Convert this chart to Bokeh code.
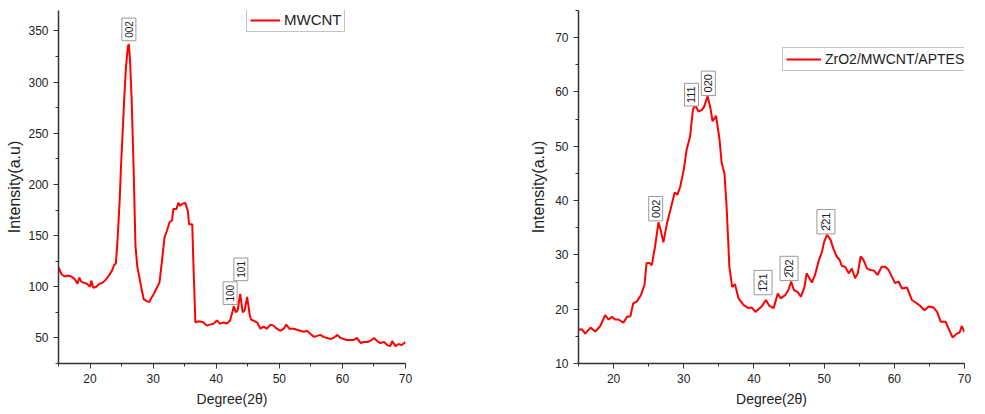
import math
from bokeh.plotting import figure
from bokeh.layouts import row
from bokeh.models import ColumnDataSource, SingleIntervalTicker, Legend, LegendItem, Range1d
from bokeh.embed import file_html
from bokeh.resources import INLINE
from bokeh.core.properties import value

FONT = "Liberation Sans"

# ---- MWCNT data ----
mw_deg = [15.0, 15.5, 16.0, 16.5, 17.0, 17.5, 18.0, 18.3, 18.6, 19.0, 19.5, 20.0, 20.2, 20.5,
          21.0, 21.5, 22.0, 22.5, 23.0, 23.5, 23.8, 24.1, 24.4, 24.7, 24.9, 25.2, 25.4, 25.7,
          26.0, 26.15, 26.35, 26.6, 26.9, 27.2, 27.5, 27.8, 28.0, 28.5, 29.0, 29.4, 29.7, 30.1,
          30.6, 31.0, 31.4, 31.8, 32.2, 32.6, 33.0, 33.2, 33.7, 34.0, 34.3, 34.6, 35.1, 35.5,
          35.7, 36.2, 36.4, 36.7, 37.0, 37.5, 38.0, 38.5, 39.0, 39.6, 40.1, 40.6, 41.2, 41.7,
          42.2, 42.8, 43.1, 43.4, 43.8, 44.2, 44.5, 44.9, 45.3, 45.5, 45.9, 46.5, 47.0, 47.5,
          48.0, 48.6, 49.1, 49.6, 50.2, 50.7, 51.1, 51.6, 52.3, 52.8, 53.3, 53.9, 54.4, 54.9,
          55.5, 56.0, 56.5, 57.0, 57.6, 58.1, 58.6, 59.2, 59.7, 60.2, 60.7, 61.3, 61.8, 62.3,
          62.9, 63.4, 63.9, 64.4, 65.0, 65.5, 66.0, 66.6, 67.1, 67.6, 67.9, 68.4, 68.9, 69.4, 70.0]
mw_int = [119, 112, 110, 111, 110, 108, 103, 109, 105, 104, 103, 100, 106, 99,
          100, 103, 104, 107, 111, 116, 121, 123, 150, 185, 217, 255, 282, 315,
          335, 337, 320, 282, 217, 140, 119, 110, 103, 88, 86, 85, 89, 93,
          99, 104, 125, 148, 155, 163, 165, 176, 176, 182, 179, 181, 182, 174,
          161, 161, 119, 65, 66, 66, 65, 62, 63, 64, 67, 64, 65, 64,
          67, 81, 75, 77, 93, 75, 77, 90, 73, 68, 67, 65, 59, 61,
          59, 63, 62, 59, 57, 59, 63, 59, 59, 58, 57, 56, 57, 54,
          51, 52, 53, 51, 50, 49, 50, 53, 50, 49, 48, 48, 48, 50,
          45, 46, 46, 47, 50, 47, 45, 46, 43, 42, 47, 42, 44, 43, 46]
mw_ann_x = [26.16, 42.2, 43.9]
mw_ann_y = [351.5, 93.7, 117.0]
mw_ann_t = ["002", "100", "101"]

# ---- ZrO2/MWCNT/APTES data ----
zr_deg = [15.0, 15.5, 15.95, 16.7, 17.4, 18.1, 18.8, 19.3, 19.75, 20.2, 20.7, 21.4, 21.9, 22.4,
          22.8, 23.3, 23.9, 24.4, 24.7, 25.1, 25.45, 25.9, 26.4, 26.7, 27.1, 27.6, 28.1, 28.7,
          29.1, 29.5, 30.0, 30.4, 30.9, 31.3, 31.6, 32.1, 32.6, 32.9, 33.4, 33.8, 34.1, 34.6,
          35.1, 35.4, 35.8, 36.1, 36.5, 36.9, 37.3, 37.8, 38.5, 39.2, 39.7, 40.2, 40.65, 41.1,
          41.7, 42.2, 42.8, 43.4, 43.8, 44.45, 44.9, 45.3, 45.7, 46.2, 46.7, 47.2, 47.5, 47.9,
          48.25, 48.7, 49.2, 49.7, 50.0, 50.4, 50.9, 51.3, 51.8, 52.2, 52.5, 53.0, 53.5, 53.95,
          54.4, 54.8, 55.2, 55.6, 56.1, 56.6, 57.1, 57.6, 58.2, 58.7, 59.2, 59.65, 60.1, 60.6,
          61.1, 61.8, 62.5, 63.2, 63.7, 64.3, 64.9, 65.6, 66.1, 66.6, 67.3, 67.7, 68.3, 68.9,
          69.3, 69.6, 70.0]
zr_int = [16.2, 16.3, 15.5, 16.6, 15.9, 16.9, 18.9, 18.1, 18.6, 18.1, 18.1, 17.5, 18.6, 18.7,
          21.1, 21.4, 22.6, 24.5, 28.5, 28.5, 28.1, 31.5, 36.0, 34.6, 32.3, 35.8, 38.3, 41.5,
          41.1, 42.6, 45.7, 49.3, 51.8, 56.7, 57.6, 56.4, 56.7, 57.3, 59.2, 57.0, 54.6, 55.6,
          51.2, 46.9, 45.0, 38.9, 27.8, 24.1, 24.6, 22.0, 20.8, 20.2, 20.3, 19.5, 20.0, 20.5,
          21.7, 20.6, 20.2, 22.9, 22.0, 22.6, 23.5, 25.1, 23.5, 23.2, 22.3, 24.1, 26.6, 25.7,
          24.9, 26.3, 28.8, 30.6, 32.4, 33.7, 32.8, 31.2, 29.7, 29.1, 28.0, 27.8, 26.6, 27.5,
          25.7, 26.6, 29.7, 29.1, 27.5, 27.2, 27.1, 26.3, 27.8, 27.8, 27.2, 26.0, 24.8, 25.1,
          23.8, 24.0, 21.7, 21.1, 20.6, 19.8, 20.5, 20.3, 19.5, 17.7, 17.7, 16.5, 14.8, 15.5,
          15.7, 16.9, 15.8]
zr_ann_x = [26.0, 31.1, 33.5, 41.3, 45.0, 50.25]
zr_ann_y = [38.5, 59.5, 61.6, 24.9, 27.5, 36.1]
zr_ann_t = ["002", "111", "020", "1\u030521", "2\u030502", "2\u030521"]


def make_fig(x, y, ax, ay, at, yr, yint, fw, bl, br, label, leg_loc, leg_size,
             ann_size, ylab_standoff, glyph_w):
    p = figure(frame_width=fw, frame_height=353, x_range=Range1d(15, 70), y_range=Range1d(*yr),
               output_backend="svg", toolbar_location=None,
               min_border_left=bl, min_border_right=br, min_border_top=10, min_border_bottom=49)
    p.outline_line_color = None
    p.grid.visible = False
    p.background_fill_color = "white"
    p.border_fill_color = "white"
    r = p.line(x, y, line_color="#ff0000", line_width=2)

    src = ColumnDataSource(dict(x=ax, y=ay, t=at))
    p.text(x="x", y="y", text="t", source=src, angle=math.pi / 2,
           text_align="center", text_baseline="middle",
           text_font=value(FONT), text_font_size=ann_size, text_color="#222222",
           background_fill_color="white", border_line_color="#999999", padding=3)

    p.xaxis.ticker = SingleIntervalTicker(interval=10, num_minor_ticks=2)
    p.yaxis.ticker = SingleIntervalTicker(interval=yint, num_minor_ticks=2)
    for axis in (p.xaxis[0], p.yaxis[0]):
        axis.axis_line_color = "#333333"
        axis.axis_line_width = 1.5
        axis.major_tick_line_color = "#333333"
        axis.minor_tick_line_color = "#333333"
        axis.major_tick_in = 0
        axis.major_tick_out = 5
        axis.minor_tick_in = 0
        axis.minor_tick_out = 3
        axis.major_label_standoff = 5
        axis.major_label_text_font = FONT
        axis.major_label_text_font_size = "12px"
        axis.major_label_text_color = "#222222"
        axis.axis_label_text_font = FONT
        axis.axis_label_text_font_style = "normal"
        axis.axis_label_text_color = "#222222"
    p.xaxis.axis_label = "Degree(2\u03b8)"
    p.yaxis.axis_label = "Intensity(a.u)"
    p.xaxis.axis_label_text_font_size = "14px"
    p.yaxis.axis_label_text_font_size = "16px"
    p.yaxis.axis_label_standoff = ylab_standoff
    p.xaxis.axis_label_standoff = 5

    legend = Legend(items=[LegendItem(label=label, renderers=[r])], location=leg_loc,
                    border_line_color="#888888", border_line_width=1,
                    label_text_font=FONT, label_text_font_size=leg_size, label_text_color="#222222",
                    glyph_width=glyph_w, glyph_height=16, label_height=16, padding=3, margin=0,
                    label_standoff=4, spacing=0, background_fill_alpha=1)
    p.add_layout(legend)
    return p


p1 = make_fig(mw_deg, mw_int, mw_ann_x, mw_ann_y, mw_ann_t, (25, 370), 50, 347, 58, 45,
              "MWCNT", (188, 331), "15px", "10px", 2, 30)
p2 = make_fig(zr_deg, zr_int, zr_ann_x, zr_ann_y, zr_ann_t, (10, 75), 10, 386, 128, 21,
              "ZrO2/MWCNT/APTES", (204, 292), "14px", "11px", 5, 35)

layout = row(p1, p2)
open("out.html", "w").write(file_html(layout, INLINE))
